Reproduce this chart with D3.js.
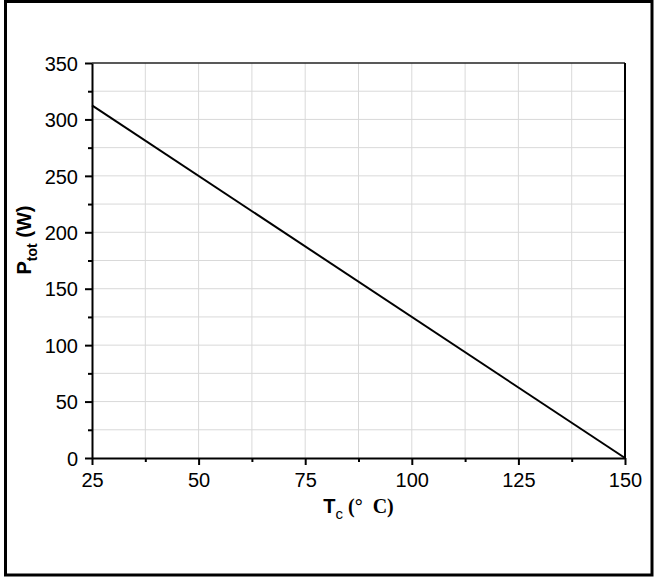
<!DOCTYPE html>
<html>
<head>
<meta charset="utf-8">
<script src="https://cdn.jsdelivr.net/npm/d3@7"></script>
<style>
  html, body { margin: 0; padding: 0; background: #fff; }
  svg { display: block; }
</style>
</head>
<body>
<svg id="chart" width="655" height="577"></svg>
<script>
// ---- data ----
const caseTemp = [25, 150];          // T_c (°C)
const totalPower = [312.5, 0];       // P_tot (W)
const xTickValues = [25, 50, 75, 100, 125, 150];
const yTickValues = [0, 50, 100, 150, 200, 250, 300, 350];
const xMinorValues = [37.5, 62.5, 87.5, 112.5, 137.5];
const yMinorValues = [25, 75, 125, 175, 225, 275, 325];

const svg = d3.select("#chart");
const plot = { left: 92, right: 625, top: 63, bottom: 458 };

// outer frame
svg.append("rect")
  .attr("x", 5.5).attr("y", 1.5)
  .attr("width", 646.5).attr("height", 573.5)
  .attr("fill", "none").attr("stroke", "#000").attr("stroke-width", 3);

const x = d3.scaleLinear().domain([25, 150]).range([plot.left, plot.right]);
const y = d3.scaleLinear().domain([0, 350]).range([plot.bottom, plot.top]);

// grid
const grid = svg.append("g").attr("stroke", "#d9d9d9").attr("stroke-width", 1);
[...xTickValues, ...xMinorValues].filter(v => v > 25 && v < 150).forEach(v => {
  grid.append("line").attr("x1", x(v)).attr("x2", x(v))
    .attr("y1", plot.top).attr("y2", plot.bottom);
});
[...yTickValues, ...yMinorValues].filter(v => v > 0 && v < 350).forEach(v => {
  grid.append("line").attr("y1", y(v)).attr("y2", y(v))
    .attr("x1", plot.left).attr("x2", plot.right);
});

// top & right frame of plot
svg.append("line").attr("x1", plot.left).attr("x2", plot.right)
  .attr("y1", plot.top).attr("y2", plot.top)
  .attr("stroke", "#222").attr("stroke-width", 1.5);
svg.append("line").attr("x1", plot.right).attr("x2", plot.right)
  .attr("y1", plot.top).attr("y2", plot.bottom)
  .attr("stroke", "#000").attr("stroke-width", 2);

// axes
const font = "'Liberation Sans', Arial, sans-serif";
const xAxis = d3.axisBottom(x).tickValues(xTickValues).tickSize(7).tickPadding(8).tickSizeOuter(0);
const yAxis = d3.axisLeft(y).tickValues(yTickValues).tickSize(7).tickPadding(7).tickSizeOuter(0);

const gx = svg.append("g").attr("transform", `translate(0,${plot.bottom})`).call(xAxis);
const gy = svg.append("g").attr("transform", `translate(${plot.left},0)`).call(yAxis);
[gx, gy].forEach(g => {
  g.select(".domain").attr("stroke", "#000").attr("stroke-width", 2);
  g.selectAll(".tick line").attr("stroke", "#000").attr("stroke-width", 2);
  g.selectAll(".tick text").attr("font-family", font).attr("font-size", 20).attr("fill", "#000");
});
gy.selectAll(".tick text").attr("dy", "0.36em");

// minor ticks
const xMinor = d3.axisBottom(x).tickValues(xMinorValues).tickSize(4).tickFormat("").tickSizeOuter(0);
const yMinor = d3.axisLeft(y).tickValues(yMinorValues).tickSize(4).tickFormat("").tickSizeOuter(0);
const gxm = svg.append("g").attr("transform", `translate(0,${plot.bottom})`).call(xMinor);
const gym = svg.append("g").attr("transform", `translate(${plot.left},0)`).call(yMinor);
[gxm, gym].forEach(g => {
  g.select(".domain").remove();
  g.selectAll(".tick line").attr("stroke", "#000").attr("stroke-width", 2);
});

// data line
const line = d3.line().x((d, i) => x(caseTemp[i])).y(d => y(d));
svg.append("path").datum(totalPower)
  .attr("d", line).attr("fill", "none")
  .attr("stroke", "#000").attr("stroke-width", 2);

// x axis label
const xl = svg.append("text")
  .attr("x", (plot.left + plot.right) / 2).attr("y", 513)
  .attr("text-anchor", "middle").attr("fill", "#000");
xl.append("tspan").attr("font-family", font).attr("font-weight", "bold").attr("font-size", 20).text("T");
xl.append("tspan").attr("font-family", font).attr("font-size", 15).attr("dy", 6).text("c");
xl.append("tspan").attr("font-family", "'Liberation Serif', 'Times New Roman', serif")
  .attr("font-weight", "bold").attr("font-size", 20).attr("dy", -6).text(" (°\u00A0 C)");

// y axis label
const yl = svg.append("text")
  .attr("transform", `translate(31,${240}) rotate(-90)`)
  .attr("text-anchor", "middle").attr("fill", "#000")
  .attr("font-family", font).attr("font-weight", "bold");
yl.append("tspan").attr("font-size", 20).text("P");
yl.append("tspan").attr("font-size", 14).attr("dy", 6).text("tot");
yl.append("tspan").attr("font-size", 20).attr("dy", -6).text(" (W)");
</script>
</body>
</html>
